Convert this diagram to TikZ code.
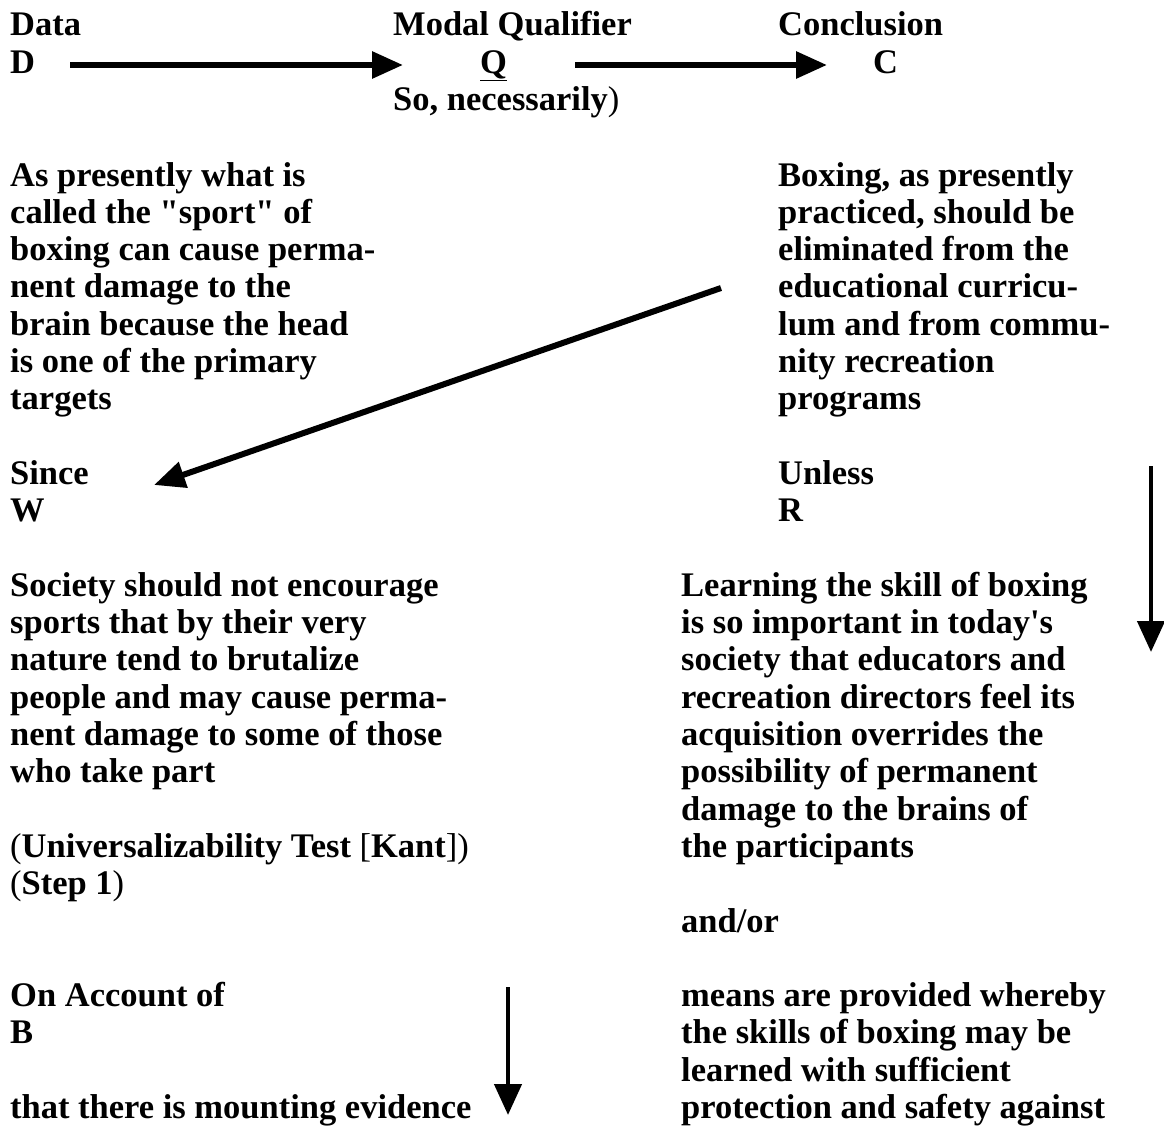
\documentclass[tikz,border=0pt]{standalone}
\usepackage{fontspec}
\setmainfont{Liberation Serif}
\usetikzlibrary{arrows.meta}
\newcommand\bodyfnt{\fontsize{34.5pt}{37.3pt}\selectfont\bfseries}
\newcommand\rp[1]{\textmd{#1}}
\newcommand\blk[1]{\parbox[t]{640pt}{\raggedright #1}}
\begin{document}
\begin{tikzpicture}[x=1pt,y=-1pt,
  txt/.style={anchor=base west,inner sep=0pt,font=\bodyfnt},
  arr/.style={line width=6pt,-{Triangle[length=31pt,width=26pt]}},
  varr/.style={line width=4.5pt,-{Triangle[length=31pt,width=27pt]}}]
\useasboundingbox (0,0) rectangle (1164,1126);
% top row
\node[txt] (datalbl) at (10,36) {Data};
\node[txt] (D) at (10,73.3) {D};
\node[txt] (modal) at (393,36) {Modal Qualifier};
\node[txt] (Q) at (480,73.3) {\underline{Q}};
\node[txt] (so) at (393,110.6) {So, necessarily\rp{)}};
\node[txt] (concl) at (778,36) {Conclusion};
\node[txt] (C) at (873,73.3) {C};
% data and claim texts
\node[txt] (dtext) at (10,186) {\blk{As presently what is\\
called the \textquotedbl sport\textquotedbl{} of\\
boxing can cause perma-\\
nent damage to the\\
brain because the head\\
is one of the primary\\
targets}};
\node[txt] (ctext) at (778,186) {\blk{Boxing, as presently\\
practiced, should be\\
eliminated from the\\
educational curricu-\\
lum and from commu-\\
nity recreation\\
programs}};
% warrant / rebuttal
\node[txt] (since) at (10,484.4) {Since};
\node[txt] (W) at (10,521.7) {W};
\node[txt] (unless) at (778,484.4) {Unless};
\node[txt] (R) at (778,521.7) {R};
\node[txt] (wtext) at (10,596.3) {\blk{Society should not encourage\\
sports that by their very\\
nature tend to brutalize\\
people and may cause perma-\\
nent damage to some of those\\
who take part}};
\node[txt] (univ) at (10,857.4) {\blk{\rp{(}Universalizability Test \rp{[}Kant\rp{])}\\
\rp{(}Step 1\rp{)}}};
\node[txt] (onacc) at (10,1006.6) {On Account of};
\node[txt] (B) at (10,1043.9) {B};
\node[txt] (btext) at (10,1118.3) {that there is mounting evidence};
\node[txt] (rtext) at (681,596.3) {\blk{Learning the skill of boxing\\
is so important in today\textquotesingle s\\
society that educators and\\
recreation directors feel its\\
acquisition overrides the\\
possibility of permanent\\
damage to the brains of\\
the participants}};
\node[txt] (andor) at (681,932) {and/or};
\node[txt] (rtext2) at (681,1006.6) {\blk{means are provided whereby\\
the skills of boxing may be\\
learned with sufficient\\
protection and safety against}};
% connector ends
\coordinate (a1s) at (70,65);
\coordinate (a1e) at (403,65);
\coordinate (a2s) at (575,65);
\coordinate (a2e) at (827,65);
\coordinate (dgs) at (721,288);
\coordinate (dge) at (154,485);
\coordinate (rvs) at (1151,466);
\coordinate (rve) at (1151,652);
\coordinate (bvs) at (508,987);
\coordinate (bve) at (508,1115);
\draw[arr] (a1s) -- (a1e);
\draw[arr] (a2s) -- (a2e);
\draw[arr] (dgs) -- (dge);
\draw[varr] (rvs) -- (rve);
\draw[varr] (bvs) -- (bve);
\end{tikzpicture}
\end{document}
